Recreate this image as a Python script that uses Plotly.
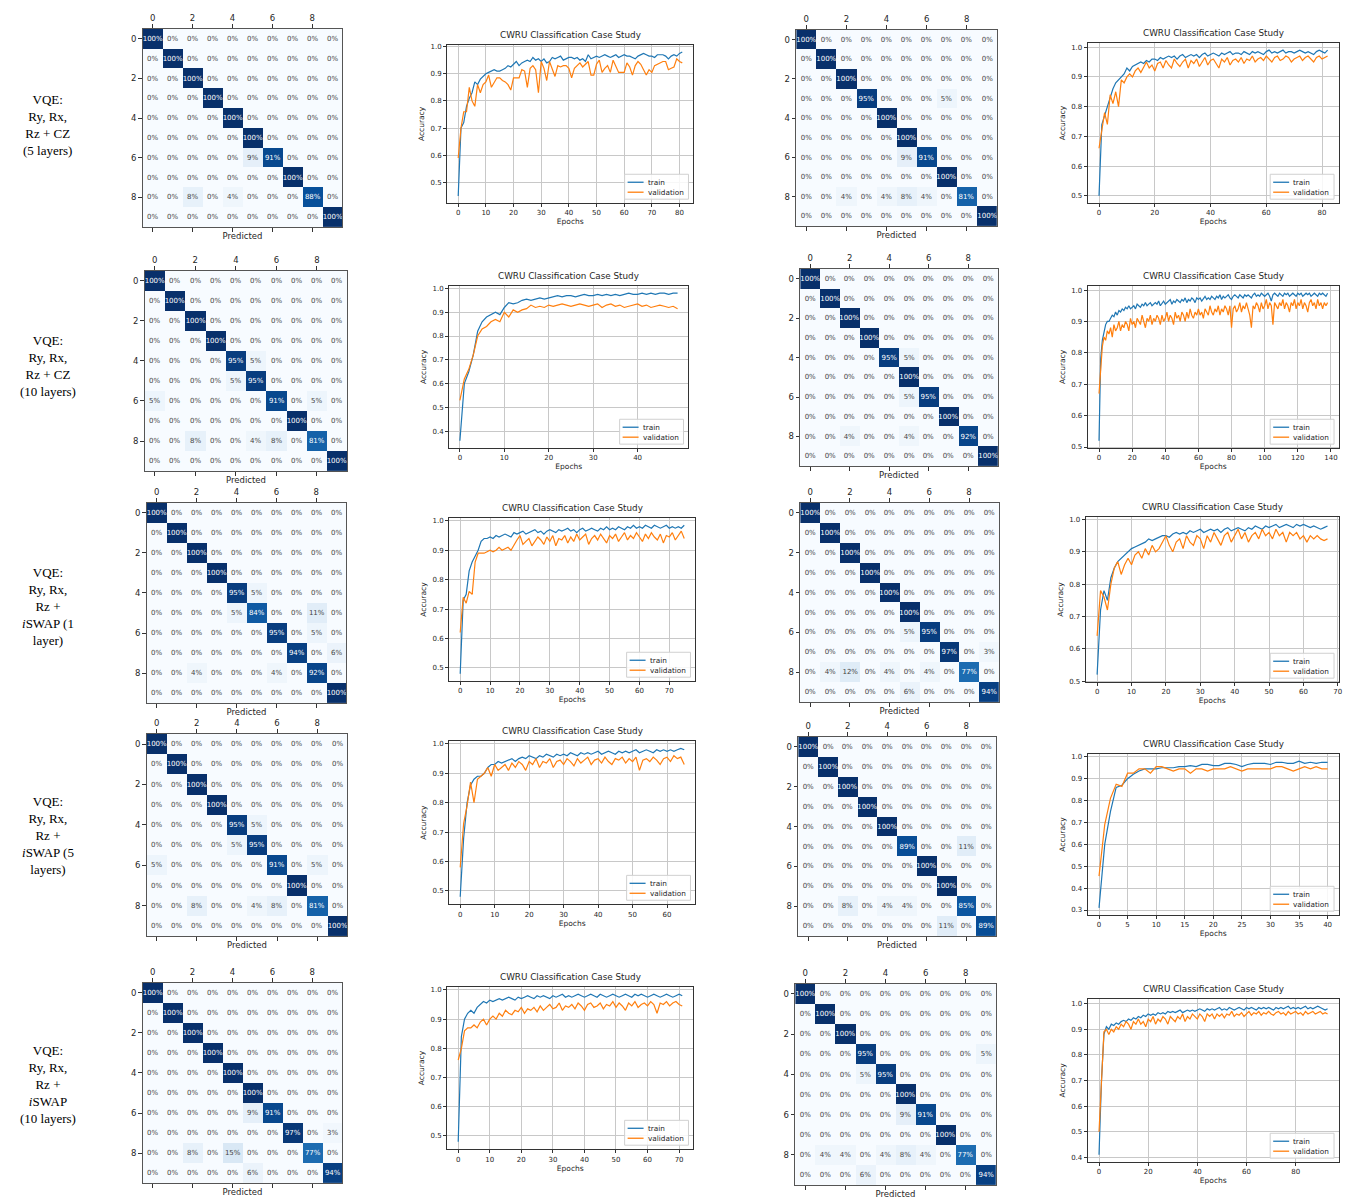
import plotly.graph_objects as go

W, H = 1356, 1200
SANS = "DejaVu Sans"
SERIF = "Liberation Serif"

# ---------------------------------------------------------------- data
classes = list(range(10))
cm_ticks = [0, 2, 4, 6, 8]
series_names = ["train", "validation"]

row_titles = [
    "VQE:<br>Ry, Rx,<br>Rz + CZ<br>(5 layers)",
    "VQE:<br>Ry, Rx,<br>Rz + CZ<br>(10 layers)",
    "VQE:<br>Ry, Rx,<br>Rz +<br><i>i</i>SWAP (1<br>layer)",
    "VQE:<br>Ry, Rx,<br>Rz +<br><i>i</i>SWAP (5<br>layers)",
    "VQE:<br>Ry, Rx,<br>Rz +<br><i>i</i>SWAP<br>(10 layers)",
]

# confusion matrices (row-normalised, %)
cm_cz5_a = [
    [100, 0, 0, 0, 0, 0, 0, 0, 0, 0],
    [0, 100, 0, 0, 0, 0, 0, 0, 0, 0],
    [0, 0, 100, 0, 0, 0, 0, 0, 0, 0],
    [0, 0, 0, 100, 0, 0, 0, 0, 0, 0],
    [0, 0, 0, 0, 100, 0, 0, 0, 0, 0],
    [0, 0, 0, 0, 0, 100, 0, 0, 0, 0],
    [0, 0, 0, 0, 0, 9, 91, 0, 0, 0],
    [0, 0, 0, 0, 0, 0, 0, 100, 0, 0],
    [0, 0, 8, 0, 4, 0, 0, 0, 88, 0],
    [0, 0, 0, 0, 0, 0, 0, 0, 0, 100],
]
cm_cz5_b = [
    [100, 0, 0, 0, 0, 0, 0, 0, 0, 0],
    [0, 100, 0, 0, 0, 0, 0, 0, 0, 0],
    [0, 0, 100, 0, 0, 0, 0, 0, 0, 0],
    [0, 0, 0, 95, 0, 0, 0, 5, 0, 0],
    [0, 0, 0, 0, 100, 0, 0, 0, 0, 0],
    [0, 0, 0, 0, 0, 100, 0, 0, 0, 0],
    [0, 0, 0, 0, 0, 9, 91, 0, 0, 0],
    [0, 0, 0, 0, 0, 0, 0, 100, 0, 0],
    [0, 0, 4, 0, 4, 8, 4, 0, 81, 0],
    [0, 0, 0, 0, 0, 0, 0, 0, 0, 100],
]
cm_cz10_a = [
    [100, 0, 0, 0, 0, 0, 0, 0, 0, 0],
    [0, 100, 0, 0, 0, 0, 0, 0, 0, 0],
    [0, 0, 100, 0, 0, 0, 0, 0, 0, 0],
    [0, 0, 0, 100, 0, 0, 0, 0, 0, 0],
    [0, 0, 0, 0, 95, 5, 0, 0, 0, 0],
    [0, 0, 0, 0, 5, 95, 0, 0, 0, 0],
    [5, 0, 0, 0, 0, 0, 91, 0, 5, 0],
    [0, 0, 0, 0, 0, 0, 0, 100, 0, 0],
    [0, 0, 8, 0, 0, 4, 8, 0, 81, 0],
    [0, 0, 0, 0, 0, 0, 0, 0, 0, 100],
]
cm_cz10_b = [
    [100, 0, 0, 0, 0, 0, 0, 0, 0, 0],
    [0, 100, 0, 0, 0, 0, 0, 0, 0, 0],
    [0, 0, 100, 0, 0, 0, 0, 0, 0, 0],
    [0, 0, 0, 100, 0, 0, 0, 0, 0, 0],
    [0, 0, 0, 0, 95, 5, 0, 0, 0, 0],
    [0, 0, 0, 0, 0, 100, 0, 0, 0, 0],
    [0, 0, 0, 0, 0, 5, 95, 0, 0, 0],
    [0, 0, 0, 0, 0, 0, 0, 100, 0, 0],
    [0, 0, 4, 0, 0, 4, 0, 0, 92, 0],
    [0, 0, 0, 0, 0, 0, 0, 0, 0, 100],
]
cm_isw1_a = [
    [100, 0, 0, 0, 0, 0, 0, 0, 0, 0],
    [0, 100, 0, 0, 0, 0, 0, 0, 0, 0],
    [0, 0, 100, 0, 0, 0, 0, 0, 0, 0],
    [0, 0, 0, 100, 0, 0, 0, 0, 0, 0],
    [0, 0, 0, 0, 95, 5, 0, 0, 0, 0],
    [0, 0, 0, 0, 5, 84, 0, 0, 11, 0],
    [0, 0, 0, 0, 0, 0, 95, 0, 5, 0],
    [0, 0, 0, 0, 0, 0, 0, 94, 0, 6],
    [0, 0, 4, 0, 0, 0, 4, 0, 92, 0],
    [0, 0, 0, 0, 0, 0, 0, 0, 0, 100],
]
cm_isw1_b = [
    [100, 0, 0, 0, 0, 0, 0, 0, 0, 0],
    [0, 100, 0, 0, 0, 0, 0, 0, 0, 0],
    [0, 0, 100, 0, 0, 0, 0, 0, 0, 0],
    [0, 0, 0, 100, 0, 0, 0, 0, 0, 0],
    [0, 0, 0, 0, 100, 0, 0, 0, 0, 0],
    [0, 0, 0, 0, 0, 100, 0, 0, 0, 0],
    [0, 0, 0, 0, 0, 5, 95, 0, 0, 0],
    [0, 0, 0, 0, 0, 0, 0, 97, 0, 3],
    [0, 4, 12, 0, 4, 0, 4, 0, 77, 0],
    [0, 0, 0, 0, 0, 6, 0, 0, 0, 94],
]
cm_isw5_a = [
    [100, 0, 0, 0, 0, 0, 0, 0, 0, 0],
    [0, 100, 0, 0, 0, 0, 0, 0, 0, 0],
    [0, 0, 100, 0, 0, 0, 0, 0, 0, 0],
    [0, 0, 0, 100, 0, 0, 0, 0, 0, 0],
    [0, 0, 0, 0, 95, 5, 0, 0, 0, 0],
    [0, 0, 0, 0, 5, 95, 0, 0, 0, 0],
    [5, 0, 0, 0, 0, 0, 91, 0, 5, 0],
    [0, 0, 0, 0, 0, 0, 0, 100, 0, 0],
    [0, 0, 8, 0, 0, 4, 8, 0, 81, 0],
    [0, 0, 0, 0, 0, 0, 0, 0, 0, 100],
]
cm_isw5_b = [
    [100, 0, 0, 0, 0, 0, 0, 0, 0, 0],
    [0, 100, 0, 0, 0, 0, 0, 0, 0, 0],
    [0, 0, 100, 0, 0, 0, 0, 0, 0, 0],
    [0, 0, 0, 100, 0, 0, 0, 0, 0, 0],
    [0, 0, 0, 0, 100, 0, 0, 0, 0, 0],
    [0, 0, 0, 0, 0, 89, 0, 0, 11, 0],
    [0, 0, 0, 0, 0, 0, 100, 0, 0, 0],
    [0, 0, 0, 0, 0, 0, 0, 100, 0, 0],
    [0, 0, 8, 0, 4, 4, 0, 0, 85, 0],
    [0, 0, 0, 0, 0, 0, 0, 11, 0, 89],
]
cm_isw10_a = [
    [100, 0, 0, 0, 0, 0, 0, 0, 0, 0],
    [0, 100, 0, 0, 0, 0, 0, 0, 0, 0],
    [0, 0, 100, 0, 0, 0, 0, 0, 0, 0],
    [0, 0, 0, 100, 0, 0, 0, 0, 0, 0],
    [0, 0, 0, 0, 100, 0, 0, 0, 0, 0],
    [0, 0, 0, 0, 0, 100, 0, 0, 0, 0],
    [0, 0, 0, 0, 0, 9, 91, 0, 0, 0],
    [0, 0, 0, 0, 0, 0, 0, 97, 0, 3],
    [0, 0, 8, 0, 15, 0, 0, 0, 77, 0],
    [0, 0, 0, 0, 0, 6, 0, 0, 0, 94],
]
cm_isw10_b = [
    [100, 0, 0, 0, 0, 0, 0, 0, 0, 0],
    [0, 100, 0, 0, 0, 0, 0, 0, 0, 0],
    [0, 0, 100, 0, 0, 0, 0, 0, 0, 0],
    [0, 0, 0, 95, 0, 0, 0, 0, 0, 5],
    [0, 0, 0, 5, 95, 0, 0, 0, 0, 0],
    [0, 0, 0, 0, 0, 100, 0, 0, 0, 0],
    [0, 0, 0, 0, 0, 9, 91, 0, 0, 0],
    [0, 0, 0, 0, 0, 0, 0, 100, 0, 0],
    [0, 4, 4, 0, 4, 8, 4, 0, 77, 0],
    [0, 0, 0, 6, 0, 0, 0, 0, 0, 94],
]

# accuracy histories (train / validation per epoch)
tr_cz5_a = [0.45, 0.70, 0.72, 0.78, 0.81, 0.83, 0.87, 0.86, 0.88, 0.89,
            0.90, 0.905, 0.91, 0.915, 0.91, 0.91, 0.915, 0.92, 0.93, 0.925,
            0.935, 0.945, 0.93, 0.94, 0.945, 0.95, 0.945, 0.96, 0.95, 0.955,
            0.945, 0.955, 0.94, 0.945, 0.96, 0.955, 0.96, 0.965, 0.95, 0.955,
            0.96, 0.96, 0.955, 0.96, 0.95, 0.955, 0.945, 0.97, 0.955, 0.96,
            0.965, 0.96, 0.965, 0.97, 0.965, 0.96, 0.965, 0.97, 0.96, 0.965,
            0.97, 0.965, 0.965, 0.96, 0.955, 0.965, 0.97, 0.975, 0.97, 0.965,
            0.965, 0.96, 0.97, 0.97, 0.97, 0.965, 0.955, 0.965, 0.97, 0.965,
            0.975, 0.98]
va_cz5_a = [0.59, 0.70, 0.76, 0.76, 0.85, 0.80, 0.78, 0.86, 0.83, 0.86,
            0.87, 0.895, 0.85, 0.87, 0.885, 0.885, 0.875, 0.87, 0.86, 0.84,
            0.885, 0.885, 0.885, 0.915, 0.91, 0.85, 0.92, 0.93, 0.915, 0.83,
            0.945, 0.92, 0.875, 0.945, 0.92, 0.89, 0.93, 0.925, 0.93, 0.93,
            0.92, 0.885, 0.92, 0.93, 0.94, 0.925, 0.935, 0.945, 0.895, 0.895,
            0.935, 0.95, 0.905, 0.92, 0.93, 0.905, 0.95, 0.93, 0.905, 0.905,
            0.905, 0.94, 0.925, 0.895, 0.93, 0.945, 0.935, 0.915, 0.895, 0.915,
            0.905, 0.93, 0.935, 0.94, 0.945, 0.945, 0.915, 0.92, 0.925, 0.955,
            0.945, 0.94]

tr_cz5_b = [0.50, 0.74, 0.77, 0.80, 0.83, 0.86, 0.88, 0.89, 0.90, 0.91,
            0.93, 0.92, 0.935, 0.94, 0.945, 0.95, 0.945, 0.955, 0.95, 0.96,
            0.96, 0.955, 0.965, 0.96, 0.965, 0.97, 0.965, 0.97, 0.96, 0.97,
            0.975, 0.965, 0.97, 0.975, 0.97, 0.975, 0.965, 0.975, 0.98, 0.97,
            0.975, 0.98, 0.975, 0.97, 0.98, 0.975, 0.98, 0.985, 0.975, 0.98,
            0.98, 0.975, 0.985, 0.98, 0.975, 0.985, 0.98, 0.985, 0.98, 0.975,
            0.985, 0.99, 0.98, 0.985, 0.98, 0.985, 0.99, 0.98, 0.985, 0.985,
            0.98, 0.985, 0.99, 0.985, 0.98, 0.985, 0.98, 0.975, 0.985, 0.99,
            0.985, 0.98, 0.99]
va_cz5_b = [0.66, 0.72, 0.78, 0.74, 0.84, 0.81, 0.85, 0.80, 0.89, 0.88,
            0.90, 0.91, 0.90, 0.92, 0.93, 0.915, 0.935, 0.95, 0.93, 0.94,
            0.92, 0.945, 0.95, 0.93, 0.955, 0.94, 0.93, 0.96, 0.945, 0.935,
            0.95, 0.96, 0.93, 0.955, 0.945, 0.96, 0.935, 0.95, 0.965, 0.94,
            0.955, 0.96, 0.945, 0.93, 0.96, 0.95, 0.965, 0.94, 0.955, 0.96,
            0.95, 0.965, 0.945, 0.96, 0.955, 0.97, 0.95, 0.96, 0.965, 0.955,
            0.97, 0.96, 0.95, 0.965, 0.97, 0.955, 0.96, 0.97, 0.965, 0.95,
            0.96, 0.965, 0.97, 0.955, 0.965, 0.97, 0.96, 0.95, 0.965, 0.97,
            0.96, 0.965, 0.97]

tr_cz10_a = [0.36, 0.60, 0.65, 0.72, 0.82, 0.86, 0.88, 0.89, 0.90, 0.89,
             0.92, 0.94, 0.935, 0.94, 0.95, 0.955, 0.95, 0.955, 0.96, 0.955,
             0.96, 0.965, 0.97, 0.965, 0.97, 0.97, 0.965, 0.97, 0.975, 0.97,
             0.97, 0.975, 0.97, 0.975, 0.97, 0.975, 0.97, 0.975, 0.98, 0.975,
             0.975, 0.98, 0.975, 0.98, 0.975, 0.98, 0.98, 0.975, 0.98, 0.98]
va_cz10_a = [0.53, 0.62, 0.66, 0.72, 0.80, 0.83, 0.84, 0.86, 0.87, 0.86,
             0.90, 0.88, 0.91, 0.90, 0.91, 0.915, 0.93, 0.92, 0.925, 0.92,
             0.93, 0.925, 0.93, 0.935, 0.93, 0.925, 0.93, 0.935, 0.93, 0.925,
             0.93, 0.935, 0.92, 0.93, 0.935, 0.925, 0.93, 0.92, 0.925, 0.93,
             0.935, 0.925, 0.93, 0.92, 0.925, 0.93, 0.925, 0.92, 0.925, 0.915]

tr_cz10_b = [0.52, 0.78, 0.84, 0.87, 0.89, 0.90, 0.90, 0.91, 0.92, 0.915,
             0.93, 0.92, 0.935, 0.93, 0.94, 0.935, 0.945, 0.94, 0.95, 0.94,
             0.945, 0.95, 0.94, 0.955, 0.95, 0.945, 0.955, 0.95, 0.96, 0.95,
             0.955, 0.96, 0.95, 0.955, 0.96, 0.955, 0.965, 0.95, 0.96, 0.965,
             0.955, 0.96, 0.965, 0.97, 0.955, 0.965, 0.96, 0.97, 0.965, 0.96,
             0.97, 0.965, 0.975, 0.96, 0.97, 0.965, 0.975, 0.97, 0.96, 0.975,
             0.97, 0.975, 0.965, 0.975, 0.98, 0.97, 0.975, 0.97, 0.98, 0.975,
             0.97, 0.98, 0.975, 0.985, 0.97, 0.98, 0.975, 0.98, 0.985, 0.975,
             0.97, 0.98, 0.985, 0.98, 0.975, 0.985, 0.98, 0.975, 0.985, 0.98,
             0.985, 0.98, 0.975, 0.985, 0.99, 0.98, 0.985, 0.98, 0.99, 0.985,
             0.98, 0.985, 0.99, 0.98, 0.965, 0.985, 0.99, 0.985, 0.98, 0.99,
             0.985, 0.98, 0.99, 0.985, 0.99, 0.98, 0.985, 0.99, 0.985, 0.98,
             0.99, 0.985, 0.99, 0.98, 0.985, 0.99, 0.985, 0.99, 0.98, 0.985,
             0.99, 0.985, 0.98, 0.99, 0.985, 0.99, 0.985, 0.98, 0.99]
va_cz10_b = [0.67, 0.76, 0.82, 0.85, 0.84, 0.87, 0.86, 0.88, 0.85, 0.89,
             0.87, 0.88, 0.90, 0.87, 0.89, 0.88, 0.90, 0.89, 0.87, 0.91,
             0.89, 0.90, 0.88, 0.91, 0.90, 0.89, 0.92, 0.90, 0.88, 0.91,
             0.90, 0.92, 0.89, 0.91, 0.90, 0.92, 0.91, 0.89, 0.92, 0.90,
             0.91, 0.93, 0.90, 0.92, 0.91, 0.89, 0.93, 0.91, 0.92, 0.90,
             0.93, 0.92, 0.90, 0.93, 0.91, 0.94, 0.92, 0.91, 0.93, 0.92,
             0.94, 0.92, 0.93, 0.91, 0.94, 0.93, 0.92, 0.95, 0.93, 0.92,
             0.94, 0.93, 0.95, 0.92, 0.94, 0.93, 0.95, 0.94, 0.92, 0.95,
             0.88, 0.94, 0.95, 0.93, 0.94, 0.96, 0.93, 0.95, 0.94, 0.96,
             0.94, 0.92, 0.88, 0.95, 0.94, 0.96, 0.95, 0.93, 0.96, 0.94,
             0.95, 0.97, 0.94, 0.96, 0.95, 0.89, 0.96, 0.95, 0.94, 0.96,
             0.95, 0.97, 0.94, 0.96, 0.95, 0.93, 0.96, 0.95, 0.97, 0.94,
             0.96, 0.95, 0.97, 0.94, 0.96, 0.95, 0.93, 0.96, 0.97, 0.95,
             0.96, 0.94, 0.97, 0.95, 0.96, 0.94, 0.96, 0.95, 0.96]

tr_isw1_a = [0.48, 0.73, 0.75, 0.83, 0.86, 0.88, 0.90, 0.93, 0.94, 0.94,
             0.945, 0.94, 0.95, 0.945, 0.95, 0.955, 0.95, 0.945, 0.96, 0.955,
             0.96, 0.965, 0.955, 0.96, 0.965, 0.97, 0.96, 0.965, 0.955, 0.965,
             0.97, 0.965, 0.96, 0.97, 0.965, 0.97, 0.975, 0.965, 0.97, 0.96,
             0.97, 0.975, 0.965, 0.97, 0.975, 0.97, 0.965, 0.975, 0.97, 0.98,
             0.97, 0.975, 0.97, 0.98, 0.975, 0.97, 0.98, 0.975, 0.985, 0.975,
             0.98, 0.975, 0.985, 0.98, 0.975, 0.985, 0.98, 0.975, 0.98, 0.985,
             0.975, 0.98, 0.975, 0.98, 0.975, 0.985]
va_isw1_a = [0.62, 0.74, 0.72, 0.76, 0.75, 0.86, 0.89, 0.89, 0.89, 0.895,
             0.90, 0.895, 0.90, 0.91, 0.90, 0.905, 0.91, 0.90, 0.92, 0.935,
             0.95, 0.92, 0.93, 0.94, 0.915, 0.93, 0.945, 0.935, 0.92, 0.945,
             0.93, 0.95, 0.915, 0.94, 0.935, 0.95, 0.925, 0.945, 0.93, 0.955,
             0.935, 0.945, 0.955, 0.92, 0.94, 0.95, 0.935, 0.955, 0.94, 0.925,
             0.95, 0.94, 0.955, 0.93, 0.945, 0.96, 0.935, 0.95, 0.94, 0.96,
             0.945, 0.93, 0.955, 0.94, 0.96, 0.945, 0.935, 0.955, 0.925, 0.95,
             0.945, 0.96, 0.935, 0.95, 0.965, 0.94]

tr_isw1_b = [0.52, 0.72, 0.78, 0.75, 0.82, 0.85, 0.87, 0.88, 0.89, 0.90,
             0.91, 0.915, 0.92, 0.925, 0.93, 0.94, 0.935, 0.94, 0.945, 0.95,
             0.95, 0.945, 0.955, 0.96, 0.955, 0.96, 0.955, 0.965, 0.96, 0.965,
             0.97, 0.96, 0.965, 0.97, 0.965, 0.97, 0.96, 0.97, 0.975, 0.965,
             0.97, 0.975, 0.97, 0.965, 0.975, 0.97, 0.98, 0.975, 0.97, 0.98,
             0.975, 0.98, 0.985, 0.975, 0.98, 0.985, 0.98, 0.975, 0.985, 0.98,
             0.985, 0.98, 0.975, 0.98, 0.975, 0.97, 0.975, 0.98]
va_isw1_b = [0.64, 0.78, 0.76, 0.72, 0.80, 0.85, 0.87, 0.83, 0.86, 0.88,
             0.86, 0.89, 0.90, 0.88, 0.91, 0.89, 0.92, 0.90, 0.91, 0.93,
             0.95, 0.92, 0.90, 0.93, 0.94, 0.91, 0.95, 0.93, 0.92, 0.95,
             0.94, 0.91, 0.95, 0.93, 0.96, 0.94, 0.92, 0.95, 0.96, 0.93,
             0.95, 0.97, 0.94, 0.96, 0.93, 0.95, 0.96, 0.94, 0.97, 0.95,
             0.96, 0.94, 0.97, 0.95, 0.96, 0.93, 0.96, 0.95, 0.96, 0.94,
             0.95, 0.93, 0.95, 0.94, 0.95, 0.94, 0.935, 0.94]

tr_isw5_a = [0.48, 0.68, 0.80, 0.86, 0.88, 0.89, 0.89, 0.90, 0.92, 0.93,
             0.93, 0.94, 0.935, 0.94, 0.945, 0.95, 0.94, 0.95, 0.955, 0.95,
             0.96, 0.955, 0.95, 0.96, 0.955, 0.965, 0.96, 0.955, 0.965, 0.96,
             0.965, 0.96, 0.97, 0.965, 0.96, 0.97, 0.965, 0.97, 0.965, 0.97,
             0.975, 0.965, 0.97, 0.975, 0.97, 0.965, 0.975, 0.97, 0.975, 0.97,
             0.975, 0.98, 0.97, 0.975, 0.98, 0.975, 0.97, 0.98, 0.975, 0.98,
             0.975, 0.98, 0.975, 0.98, 0.985, 0.98]
va_isw5_a = [0.58, 0.73, 0.79, 0.87, 0.80, 0.88, 0.89, 0.90, 0.92, 0.89,
             0.93, 0.91, 0.92, 0.93, 0.91, 0.935, 0.92, 0.94, 0.93, 0.91,
             0.94, 0.93, 0.95, 0.92, 0.94, 0.935, 0.95, 0.92, 0.94, 0.945,
             0.93, 0.95, 0.94, 0.925, 0.95, 0.935, 0.945, 0.955, 0.93, 0.945,
             0.95, 0.935, 0.955, 0.94, 0.93, 0.95, 0.945, 0.955, 0.935, 0.95,
             0.94, 0.955, 0.91, 0.945, 0.95, 0.94, 0.955, 0.945, 0.93, 0.95,
             0.955, 0.94, 0.96, 0.95, 0.955, 0.93]

tr_isw5_b = [0.31, 0.60, 0.75, 0.86, 0.87, 0.90, 0.92, 0.935, 0.945, 0.945,
             0.945, 0.95, 0.95, 0.95, 0.955, 0.955, 0.96, 0.955, 0.965, 0.965,
             0.96, 0.96, 0.97, 0.97, 0.965, 0.955, 0.965, 0.97, 0.97, 0.97,
             0.965, 0.975, 0.975, 0.97, 0.97, 0.98, 0.97, 0.975, 0.97, 0.975,
             0.975]
va_isw5_b = [0.455, 0.69, 0.81, 0.875, 0.865, 0.925, 0.925, 0.945, 0.945, 0.925,
             0.955, 0.955, 0.945, 0.935, 0.945, 0.945, 0.925, 0.945, 0.945, 0.935,
             0.945, 0.945, 0.945, 0.955, 0.945, 0.935, 0.945, 0.945, 0.945, 0.945,
             0.945, 0.955, 0.955, 0.945, 0.935, 0.945, 0.955, 0.945, 0.955, 0.945,
             0.945]

tr_isw10_a = [0.48, 0.84, 0.90, 0.92, 0.93, 0.92, 0.94, 0.95, 0.96, 0.955,
              0.965, 0.96, 0.965, 0.97, 0.965, 0.97, 0.975, 0.97, 0.965, 0.975,
              0.97, 0.975, 0.98, 0.975, 0.97, 0.98, 0.975, 0.98, 0.975, 0.97,
              0.98, 0.975, 0.98, 0.985, 0.975, 0.98, 0.975, 0.98, 0.985, 0.98,
              0.975, 0.98, 0.985, 0.98, 0.975, 0.985, 0.98, 0.975, 0.98, 0.985,
              0.98, 0.975, 0.98, 0.985, 0.98, 0.975, 0.985, 0.98, 0.985, 0.98,
              0.975, 0.98, 0.985, 0.98, 0.975, 0.98, 0.985, 0.98, 0.975, 0.98,
              0.985, 0.98]
va_isw10_a = [0.76, 0.80, 0.86, 0.87, 0.87, 0.88, 0.87, 0.89, 0.90, 0.88,
              0.90, 0.91, 0.90, 0.92, 0.91, 0.93, 0.92, 0.915, 0.93, 0.925,
              0.94, 0.92, 0.935, 0.93, 0.94, 0.925, 0.945, 0.93, 0.94, 0.95,
              0.935, 0.94, 0.955, 0.93, 0.945, 0.94, 0.95, 0.935, 0.955, 0.945,
              0.93, 0.95, 0.955, 0.94, 0.945, 0.955, 0.935, 0.95, 0.945, 0.96,
              0.94, 0.955, 0.945, 0.93, 0.955, 0.945, 0.96, 0.94, 0.95, 0.955,
              0.945, 0.96, 0.95, 0.92, 0.955, 0.95, 0.96, 0.945, 0.955, 0.96,
              0.95, 0.945]

tr_isw10_b = [0.41, 0.70, 0.88, 0.91, 0.90, 0.92, 0.915, 0.925, 0.92, 0.93,
              0.935, 0.93, 0.94, 0.935, 0.945, 0.94, 0.95, 0.945, 0.955, 0.95,
              0.96, 0.955, 0.96, 0.955, 0.965, 0.96, 0.965, 0.96, 0.97, 0.965,
              0.97, 0.965, 0.97, 0.975, 0.965, 0.97, 0.975, 0.97, 0.975, 0.97,
              0.975, 0.98, 0.975, 0.97, 0.98, 0.975, 0.98, 0.975, 0.98, 0.985,
              0.975, 0.98, 0.975, 0.985, 0.98, 0.975, 0.98, 0.985, 0.98, 0.975,
              0.985, 0.98, 0.985, 0.98, 0.975, 0.985, 0.98, 0.985, 0.98, 0.985,
              0.98, 0.975, 0.985, 0.98, 0.985, 0.98, 0.985, 0.99, 0.98, 0.985,
              0.98, 0.985, 0.98, 0.985, 0.99, 0.98, 0.985, 0.98, 0.985, 0.99,
              0.985, 0.98, 0.975, 0.98]
va_isw10_b = [0.50, 0.72, 0.89, 0.90, 0.88, 0.90, 0.89, 0.91, 0.90, 0.92,
              0.91, 0.93, 0.92, 0.90, 0.93, 0.92, 0.94, 0.92, 0.93, 0.91,
              0.94, 0.93, 0.95, 0.92, 0.94, 0.93, 0.95, 0.94, 0.92, 0.95,
              0.94, 0.93, 0.95, 0.94, 0.96, 0.93, 0.95, 0.94, 0.96, 0.95,
              0.94, 0.96, 0.95, 0.93, 0.96, 0.95, 0.96, 0.94, 0.96, 0.95,
              0.96, 0.945, 0.96, 0.955, 0.97, 0.95, 0.96, 0.955, 0.965, 0.95,
              0.96, 0.97, 0.955, 0.965, 0.96, 0.97, 0.955, 0.965, 0.96, 0.97,
              0.96, 0.955, 0.965, 0.97, 0.96, 0.965, 0.955, 0.97, 0.96, 0.965,
              0.97, 0.96, 0.965, 0.955, 0.97, 0.96, 0.965, 0.97, 0.96, 0.965,
              0.97, 0.96, 0.965, 0.96]

# tick values of the accuracy panels
xt_80 = [0, 10, 20, 30, 40, 50, 60, 70, 80]
xt_80s = [0, 20, 40, 60, 80]
xt_40 = [0, 10, 20, 30, 40]
xt_140 = [0, 20, 40, 60, 80, 100, 120, 140]
xt_70 = [0, 10, 20, 30, 40, 50, 60, 70]
xt_60 = [0, 10, 20, 30, 40, 50, 60]
xt_5 = [0, 5, 10, 15, 20, 25, 30, 35, 40]
yt_5 = [0.5, 0.6, 0.7, 0.8, 0.9, 1.0]
yt_4 = [0.4, 0.5, 0.6, 0.7, 0.8, 0.9, 1.0]
yt_3 = [0.3, 0.4, 0.5, 0.6, 0.7, 0.8, 0.9, 1.0]

# ---------------------------------------------------------------- layout boxes (px: left, top, right, bottom)
cm_panels = [
    (cm_cz5_a, (143, 27, 343, 226)),
    (cm_cz5_b, (798, 28, 999, 225)),
    (cm_cz10_a, (145, 270, 348, 471)),
    (cm_cz10_b, (802, 268, 1000, 466)),
    (cm_isw1_a, (147, 503, 347, 704)),
    (cm_isw1_b, (802, 503, 1001, 703)),
    (cm_isw5_a, (147, 735, 348, 938)),
    (cm_isw5_b, (800, 738, 998, 938)),
    (cm_isw10_a, (143, 985, 343, 1186)),
    (cm_isw10_b, (797, 986, 998, 1188)),
]
acc_panels = [
    (tr_cz5_a, va_cz5_a, xt_80, yt_5, (448, 43, 695, 202)),
    (tr_cz5_b, va_cz5_b, xt_80s, yt_5, (1090, 41, 1342, 202)),
    (tr_cz10_a, va_cz10_a, xt_40, yt_4, (450, 285, 690, 448)),
    (tr_cz10_b, va_cz10_b, xt_140, yt_5, (1090, 285, 1342, 448)),
    (tr_isw1_a, va_isw1_a, xt_70, yt_5, (450, 518, 697, 682)),
    (tr_isw1_b, va_isw1_b, xt_70, yt_5, (1088, 517, 1342, 683)),
    (tr_isw5_a, va_isw5_a, xt_60, yt_5, (450, 742, 697, 906)),
    (tr_isw5_b, va_isw5_b, xt_5, yt_3, (1090, 755, 1342, 917)),
    (tr_isw10_a, va_isw10_a, xt_70, yt_5, (448, 989, 695, 1152)),
    (tr_isw10_b, va_isw10_b, xt_80s, yt_4, (1090, 1001, 1342, 1165)),
]
row_label_y = [124, 366, 607, 837, 1087]

BLUES = [[0.0, "#f7fbff"], [0.125, "#deebf7"], [0.25, "#c6dbef"],
         [0.375, "#9ecae1"], [0.5, "#6baed6"], [0.625, "#4292c6"],
         [0.75, "#2171b5"], [0.875, "#08519c"], [1.0, "#08306b"]]
SERIES_COLORS = ["#1f77b4", "#ff7f0e"]
TXT = "#262626"

fig = go.Figure()
layout = {}
annotations = []
shapes = []
counter = [0]


def new_axis():
    counter[0] += 1
    return counter[0]


def akey(p, n):
    return f"{p}axis" if n == 1 else f"{p}axis{n}"


def aref(p, n):
    return p if n == 1 else f"{p}{n}"


def px(x):
    return x / W


def py(y):
    return 1 - y / H


# ---------------------------------------------------------------- confusion matrices
for z, (l, t, r, b) in cm_panels:
    n = new_axis()
    fig.add_trace(go.Heatmap(
        z=z, x=classes, y=classes, colorscale=BLUES, zmin=0, zmax=100,
        showscale=False, texttemplate="%{z}%",
        textfont=dict(size=7, family=SANS), hoverinfo="skip",
        xaxis=aref("x", n), yaxis=aref("y", n)))
    frame = dict(showline=True, mirror=True, linecolor="#555", linewidth=1,
                 showgrid=False, zeroline=False, ticks="outside", ticklen=3.5,
                 tickcolor="#333", tickfont=dict(size=8.5, family=SANS, color=TXT))
    layout[akey("x", n)] = dict(
        domain=[px(l), px(r)], anchor=aref("y", n), range=[-0.5, 9.5],
        tickvals=cm_ticks, showticklabels=False,
        title=dict(text="Predicted", font=dict(size=8.5, family=SANS, color=TXT),
                   standoff=2),
        **frame)
    layout[akey("y", n)] = dict(
        domain=[py(b), py(t)], anchor=aref("x", n), range=[9.5, -0.5],
        tickvals=cm_ticks, **frame)
    m = new_axis()
    layout[akey("x", m)] = dict(
        overlaying=aref("x", n), side="top", anchor=aref("y", n),
        range=[-0.5, 9.5], tickvals=cm_ticks, showgrid=False, zeroline=False,
        ticks="outside", ticklen=3.5, tickcolor="#333",
        tickfont=dict(size=8.5, family=SANS, color=TXT))
    fig.add_trace(go.Scatter(x=[None], y=[None], xaxis=aref("x", m),
                             yaxis=aref("y", n), showlegend=False,
                             hoverinfo="skip"))

# ---------------------------------------------------------------- accuracy curves
for tr, va, xt, yt, (l, t, r, b) in acc_panels:
    n = new_axis()
    epochs = list(range(len(tr)))
    last = len(tr) - 1
    lo = min(min(tr), min(va))
    hi = max(max(tr), max(va))
    pad = 0.05 * (hi - lo)
    for name, ys, col in zip(series_names, (tr, va), SERIES_COLORS):
        fig.add_trace(go.Scatter(x=epochs, y=ys, mode="lines", name=name,
                                 line=dict(color=col, width=1.2),
                                 showlegend=False,
                                 xaxis=aref("x", n), yaxis=aref("y", n)))
    common = dict(showline=True, mirror=True, linecolor="#333", linewidth=0.8,
                  showgrid=True, gridcolor="#c8c8c8", gridwidth=0.8,
                  zeroline=False, ticks="outside", ticklen=3, tickcolor="#333",
                  tickfont=dict(size=7, family=SANS, color=TXT))
    layout[akey("x", n)] = dict(
        domain=[px(l), px(r)], anchor=aref("y", n),
        range=[-0.05 * last, 1.05 * last], tickvals=xt,
        title=dict(text="Epochs", font=dict(size=7.5, family=SANS, color=TXT),
                   standoff=2),
        **common)
    layout[akey("y", n)] = dict(
        domain=[py(b), py(t)], anchor=aref("x", n),
        range=[lo - pad, hi + pad], tickvals=yt, tickformat=".1f",
        title=dict(text="Accuracy", font=dict(size=7.5, family=SANS, color=TXT),
                   standoff=4),
        **common)
    annotations.append(dict(
        text="CWRU Classification Case Study", x=px((l + r) / 2),
        y=py(t - 3), xref="paper", yref="paper", xanchor="center",
        yanchor="bottom", showarrow=False,
        font=dict(size=8.8, family=SANS, color=TXT)))

    # compact legend box in the lower-right corner of the panel
    bx0, bx1 = r - 69, r - 5
    by0, by1 = b - 29, b - 4
    shapes.append(dict(type="rect", xref="paper", yref="paper",
                       x0=px(bx0), x1=px(bx1), y0=py(by1), y1=py(by0),
                       line=dict(color="#d0d0d0", width=1),
                       fillcolor="rgba(255,255,255,0.85)", layer="above"))
    for k, (name, col) in enumerate(zip(series_names, SERIES_COLORS)):
        yy = by0 + 8 + 10 * k
        shapes.append(dict(type="line", xref="paper", yref="paper",
                           x0=px(bx0 + 3), x1=px(bx0 + 19), y0=py(yy), y1=py(yy),
                           line=dict(color=col, width=1.3), layer="above"))
        annotations.append(dict(
            text=name, x=px(bx0 + 21), y=py(yy), xref="paper", yref="paper",
            xanchor="left", yanchor="middle", showarrow=False,
            font=dict(size=7.3, family=SANS, color=TXT)))

# ---------------------------------------------------------------- row titles
for txt, yc in zip(row_titles, row_label_y):
    annotations.append(dict(
        text=txt, x=px(48), y=py(yc), xref="paper", yref="paper",
        xanchor="center", yanchor="middle", align="center", showarrow=False,
        font=dict(size=13, family=SERIF, color="#000")))

fig.update_layout(
    width=W, height=H, margin=dict(l=0, r=0, t=0, b=0),
    paper_bgcolor="white", plot_bgcolor="white", showlegend=False,
    annotations=annotations, shapes=shapes, **layout)

fig.write_html("out.html")
